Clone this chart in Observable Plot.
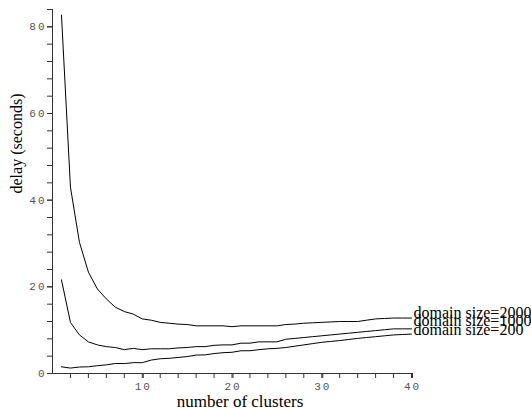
<!DOCTYPE html>
<html>
<head>
<meta charset="utf-8">
<script src="https://cdn.jsdelivr.net/npm/d3@7"></script>
<script src="https://cdn.jsdelivr.net/npm/@observablehq/plot@0.6"></script>
<style>
  html, body { margin: 0; padding: 0; background: white; }
  g[aria-label="y-axis tick label"] text, g[aria-label="x-axis tick label"] text { letter-spacing: 2px; }
</style>
</head>
<body>
<div id="chart"></div>
<script>
const clusters = [1,2,3,4,5,6,7,8,9,10,11,12,13,14,15,16,17,18,19,20,21,22,23,24,25,26,27,28,29,30,31,32,33,34,35,36,37,38,39,40];
const delay2000 = [82.7,43.0,30.3,23.4,19.5,17.2,15.3,14.3,13.7,12.6,12.3,11.8,11.6,11.4,11.3,11.0,11.0,11.0,11.0,10.8,11.0,11.0,11.0,11.0,11.0,11.3,11.4,11.6,11.7,11.8,11.9,12.0,12.0,12.0,12.3,12.6,12.7,12.8,12.8,12.8];
const delay1000 = [21.6,11.8,8.9,7.3,6.6,6.2,6.0,5.5,5.8,5.5,5.7,5.7,5.7,5.9,6.0,6.2,6.2,6.5,6.6,6.6,7.0,7.0,7.3,7.3,7.3,7.9,8.1,8.3,8.5,8.7,8.9,9.1,9.3,9.5,9.7,9.9,10.1,10.3,10.3,10.3];
const delay200 = [1.55,1.25,1.5,1.55,1.8,2.0,2.3,2.3,2.5,2.5,3.1,3.4,3.5,3.7,3.9,4.25,4.3,4.6,4.8,4.9,5.25,5.25,5.5,5.7,5.8,6.0,6.3,6.6,6.9,7.2,7.4,7.6,7.85,8.1,8.3,8.5,8.7,8.9,9.0,9.1];
const seriesNames = ["domain size=2000", "domain size=1000", "domain size=200"];
const xTicks = [2,4,6,8,10,12,14,16,18,20,22,24,26,28,30,32,34,36,38,40];
const xTickLabels = [10,20,30,40];
const yTicks = [0,4,8,12,16,20,24,28,32,36,40,44,48,52,56,60,64,68,72,76,80,84];
const yTickLabels = [0,20,40,60,80];
const xTitle = "number of clusters";
const yTitle = "delay (seconds)";

const seriesValues = [delay2000, delay1000, delay200];
const rows = [];
seriesNames.forEach((name, i) => {
  clusters.forEach((c, j) => rows.push({series: name, x: c, y: seriesValues[i][j]}));
});
const lastRows = seriesNames.map((name, i) => ({series: name, x: clusters[clusters.length - 1], y: seriesValues[i][clusters.length - 1]}));
const labelDy = [0, -3, 1];

const mono = "'Liberation Mono', 'DejaVu Sans Mono', monospace";
const serif = "'Liberation Serif', 'DejaVu Serif', serif";

const chart = Plot.plot({
  width: 531,
  height: 409,
  marginLeft: 52,
  marginRight: 120,
  marginTop: 9,
  marginBottom: 36,
  x: {domain: [0, 40]},
  y: {domain: [0, 84]},
  style: {background: "white", overflow: "visible"},
  marks: [
    Plot.axisY({ticks: yTicks, tickFormat: () => "", tickSize: 5, stroke: "#333", label: null}),
    Plot.axisY({ticks: yTickLabels, tickSize: 5, tickPadding: 1, fontFamily: mono, fontSize: 11, fill: "#555", stroke: "#333", label: null}),
    Plot.axisX({ticks: xTicks, tickFormat: () => "", tickSize: 5, stroke: "#333", label: null}),
    Plot.axisX({ticks: xTickLabels, tickSize: 5, tickPadding: 4, fontFamily: mono, fontSize: 11, fill: "#555", stroke: "#333", label: null, dx: 1}),
    Plot.ruleX([0], {y1: 0, y2: 84, stroke: "#333"}),
    Plot.ruleY([0], {x1: 0, x2: 40, stroke: "#333"}),
    Plot.line(rows, {x: "x", y: "y", z: "series", stroke: "black", strokeWidth: 1}),
    ...lastRows.map((r, i) => Plot.text([r], {x: "x", y: "y", text: "series", textAnchor: "start", lineAnchor: "bottom", dx: 2, dy: labelDy[i], fontFamily: serif, fontSize: 16, fill: "black"})),
    Plot.text([xTitle], {frameAnchor: "bottom", text: d => d, lineAnchor: "bottom", dx: 8, dy: 33, fontFamily: serif, fontSize: 17, fill: "black"}),
    Plot.text([yTitle], {frameAnchor: "left", text: d => d, rotate: -90, lineAnchor: "bottom", dx: -31, dy: 2, fontFamily: serif, fontSize: 16, fill: "black"})
  ]
});
document.getElementById("chart").appendChild(chart);
</script>
</body>
</html>
